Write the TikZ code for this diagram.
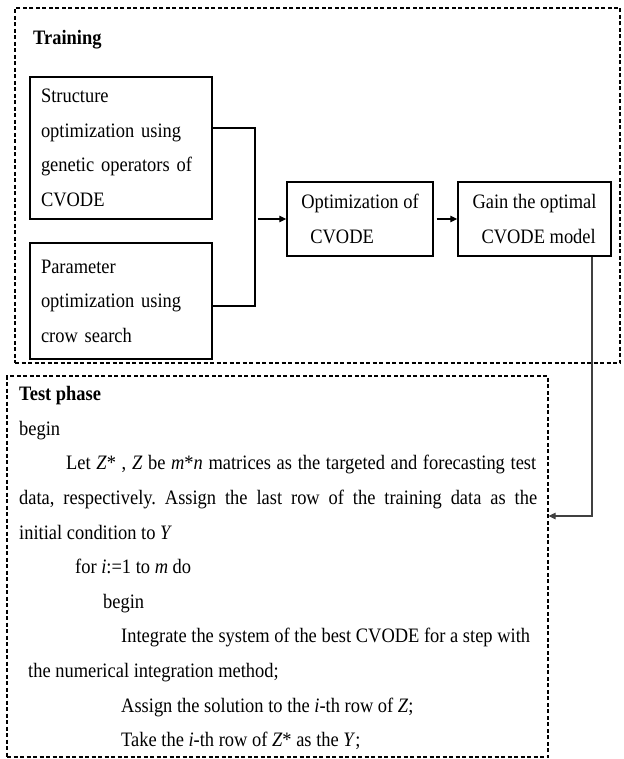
\documentclass[tikz,border=0pt]{standalone}
\usepackage{fontspec}
\setmainfont{Liberation Serif}[FakeStretch=0.9]
\usetikzlibrary{arrows.meta}
\newcommand{\bodysize}{\fontsize{20.5}{34.6}\selectfont\frenchspacing}

\begin{document}
\begin{tikzpicture}[x=1pt,y=-1pt,
  box/.style={draw, line width=1.4pt, align=left, font=\bodysize, inner xsep=11pt, inner ysep=0pt},
  zone/.style={draw, line width=1.2pt, dash pattern=on 4pt off 2.5pt, inner sep=0pt},
  wire/.style={line width=1.3pt},
  flow/.style={line width=1.3pt, -{Triangle[length=7pt,width=6.5pt]}},
  feed/.style={line width=1.2pt, draw=black!75, -{Triangle[length=7pt,width=6.5pt]}},
  codeline/.style={anchor=base west, inner sep=0pt, font=\bodysize}]
\useasboundingbox (0,0) rectangle (623,759);

% training stage
\node[zone, minimum width=605pt, minimum height=355pt] (training) at (317.5,185.5) {};
\node[anchor=base west, inner sep=0pt, font=\bodysize\bfseries] (trainlabel) at (33,45) {Training};

\node[box, text width=160pt, minimum height=142pt] (struct) at (121,148)
  {Structure\\optimization using\\genetic operators of\\CVODE};
\node[box, text width=160pt, minimum height=116pt] (param) at (121,301)
  {Parameter\\optimization using\\crow search};
\node[box, minimum width=146pt, minimum height=74pt] (opt) at (360,219)
  {Optimization of\\\hspace*{9pt}CVODE};
\node[box, minimum width=153pt, minimum height=74pt] (gain) at (534.5,219)
  {Gain the optimal\\\hspace*{9pt}CVODE model};

\coordinate (join) at (255,219);
\draw[wire] ([yshift=20pt]struct.east) -| (join) |- ([yshift=-5pt]param.east);
\draw[flow] ([xshift=2.5pt]join) -- (opt.west);
\draw[flow] ([xshift=3pt]opt.east) -- (gain.west);

% test stage
\node[zone, minimum width=541pt, minimum height=381pt] (test) at (277.5,566.5) {};

\coordinate (turn) at (592,516);
\draw[feed] (gain.south -| turn) -- (turn) -- (test.east |- turn);

\node[codeline, font=\bodysize\bfseries] (phase) at (19,400.7) {Test phase};
\node[codeline] (beginA) at (19,435.3) {begin};
\node[codeline] (letline) at (66,469.9)
  {\makebox[470pt][s]{Let \textit{Z}* , \textit{Z} be \textit{m}*\textit{n} matrices as the targeted and forecasting test}};
\node[codeline] (dataline) at (19,504.5)
  {\makebox[518pt][s]{data, respectively. Assign the last row of the training data as the}};
\node[codeline] (initline) at (19,539.1) {initial condition to \textit{Y}};
\node[codeline] (forline) at (75,573.7) {for \textit{i}:=1 to \textit{m} do};
\node[codeline] (beginB) at (103,608.3) {begin};
\node[codeline] (integ) at (121,642.9) {Integrate the system of the best CVODE for a step with};
\node[codeline] (numer) at (28,677.5) {the numerical integration method;};
\node[codeline] (assign) at (121,712.1) {Assign the solution to the \textit{i}-th row of \textit{Z};};
\node[codeline] (take) at (121,746.7) {Take the \textit{i}-th row of \textit{Z}* as the \textit{Y};};
\end{tikzpicture}
\end{document}
